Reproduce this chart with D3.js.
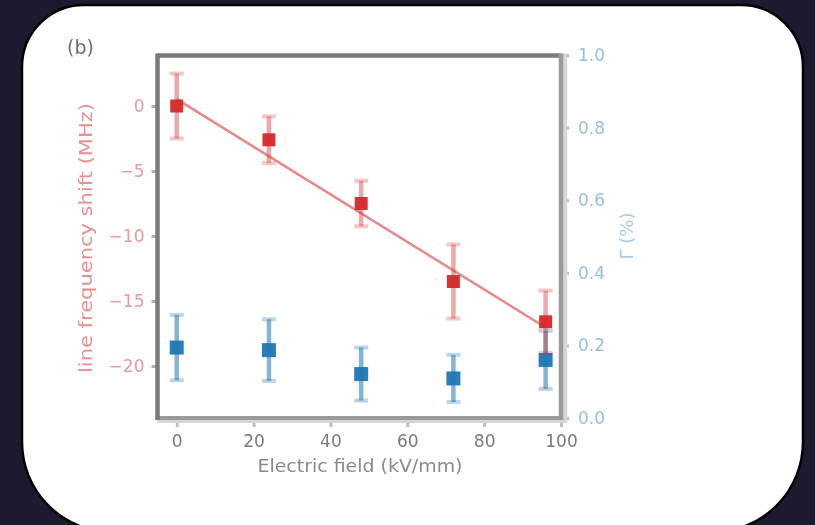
<!DOCTYPE html>
<html>
<head>
<meta charset="utf-8">
<script src="https://cdn.jsdelivr.net/npm/d3@7"></script>
<style>
  html, body { margin: 0; padding: 0; background: #1d1a30; }
  svg { display: block; }
  text { font-family: "DejaVu Sans", sans-serif; }
</style>
</head>
<body>
<svg id="fig" width="815" height="525"></svg>
<script>
// Electric-field dependence of the line shift (left axis) and Γ (right axis)
const fieldKV      = [0, 24, 48, 72, 96];
const lineShift    = [0.0, -2.6, -7.5, -13.5, -16.6];
const lineShiftErr = [2.5, 1.8, 1.75, 2.85, 2.4];
const gammaPct     = [0.194, 0.187, 0.121, 0.109, 0.160];
const gammaErr     = [0.09, 0.085, 0.073, 0.065, 0.08];
const fitSlope     = -0.183;   // MHz per kV/mm
const fitIntercept = 0.53;     // MHz

const xTicks      = [0, 20, 40, 60, 80, 100];
const leftTicks   = [0, -5, -10, -15, -20];
const rightTicks  = [0.0, 0.2, 0.4, 0.6, 0.8, 1.0];

const RED = "#d62728", BLUE = "#1f77b4";

const svg = d3.select("#fig");

// outer card
const L = 22, R = 803, T = 5, B = 532, rt = 62, rb = 90;
svg.append("rect").attr("width", 815).attr("height", 525).attr("fill", "#1d1a30");
svg.append("path")
  .attr("d", `M${L+rt},${T} H${R-rt} A${rt},${rt} 0 0 1 ${R},${T+rt} V${B-rb} A${rb},${rb} 0 0 1 ${R-rb},${B}
              H${L+rb} A${rb},${rb} 0 0 1 ${L},${B-rb} V${T+rt} A${rt},${rt} 0 0 1 ${L+rt},${T} Z`)
  .attr("fill", "#fff").attr("stroke", "#000").attr("stroke-width", 2.5);

const defs = svg.append("defs");
defs.append("filter").attr("id", "soft")
  .append("feGaussianBlur").attr("stdDeviation", 0.6);

const x  = d3.scaleLinear().domain([-5, 100]).range([157.5, 561]);
const yL = d3.scaleLinear().domain([-24, 4]).range([418, 54]);
const yR = d3.scaleLinear().domain([0, 1]).range([418, 55]);

const g = svg.append("g").attr("filter", "url(#soft)");

// axes (ticks + labels)
const fmtMinus = d => (d < 0 ? "\u2212" + Math.abs(d) : String(d));

const ax = g.append("g").attr("transform", `translate(0,${yL.range()[0] + 2})`)
  .call(d3.axisBottom(x).tickValues(xTicks).tickSize(7).tickPadding(8).tickFormat(d3.format("d")));
ax.select(".domain").remove();
ax.selectAll("line").attr("stroke", "#bdbdbd").attr("stroke-width", 3);
ax.selectAll("text").attr("fill", "#7a7a7a").attr("font-size", 17);

const al = g.append("g").attr("transform", `translate(${x.range()[0]},0)`)
  .call(d3.axisLeft(yL).tickValues(leftTicks).tickSize(6).tickPadding(7).tickFormat(fmtMinus));
al.select(".domain").remove();
al.selectAll("line").attr("stroke", "#c9a3a3").attr("stroke-width", 3);
al.selectAll("text").attr("fill", "#e99a9a").attr("font-size", 17);

const ar = g.append("g").attr("transform", `translate(${x.range()[1] + 2},0)`)
  .call(d3.axisRight(yR).tickValues(rightTicks).tickSize(6).tickPadding(9).tickFormat(d3.format(".1f")));
ar.select(".domain").remove();
ar.selectAll("line").attr("stroke", "#a9bdd2").attr("stroke-width", 3);
ar.selectAll("text").attr("fill", "#96bfde").attr("font-size", 17);

// spines
const [x0, x1] = x.range(), yb = yL.range()[0], yt = 55.5;
g.append("line").attr("x1", x0).attr("x2", x1).attr("y1", yt).attr("y2", yt)
  .attr("stroke", "#7a7a7a").attr("stroke-width", 4.5);
g.append("line").attr("x1", x0).attr("x2", x1 + 6).attr("y1", yb + 3).attr("y2", yb + 3)
  .attr("stroke", "#d6d6d6").attr("stroke-width", 4);
g.append("line").attr("x1", x0).attr("x2", x1).attr("y1", yb).attr("y2", yb)
  .attr("stroke", "#9a9a9a").attr("stroke-width", 4);
g.append("line").attr("x1", x1 + 4).attr("x2", x1 + 4).attr("y1", yt - 2).attr("y2", yb + 5)
  .attr("stroke", "#d6d6d6").attr("stroke-width", 4.5);
g.append("line").attr("x1", x1).attr("x2", x1).attr("y1", yt - 2).attr("y2", yb + 2)
  .attr("stroke", "#9a9a9a").attr("stroke-width", 4.5);
g.append("line").attr("x1", x0).attr("x2", x0).attr("y1", yt - 2).attr("y2", yb + 2)
  .attr("stroke", "#7a7a7a").attr("stroke-width", 4.5);

// Γ series (right axis)
const blue = g.append("g");
fieldKV.forEach((f, i) => {
  const cx = x(f), top = yR(gammaPct[i] + gammaErr[i]), bot = yR(gammaPct[i] - gammaErr[i]);
  blue.append("line").attr("x1", cx).attr("x2", cx).attr("y1", top).attr("y2", bot)
    .attr("stroke", BLUE).attr("stroke-opacity", 0.55).attr("stroke-width", 4.5);
  [top, bot].forEach(yy => blue.append("line")
    .attr("x1", cx - 7).attr("x2", cx + 7).attr("y1", yy).attr("y2", yy)
    .attr("stroke", BLUE).attr("stroke-opacity", 0.3).attr("stroke-width", 4));
  blue.append("rect").attr("x", cx - 7).attr("y", yR(gammaPct[i]) - 7)
    .attr("width", 14).attr("height", 14).attr("fill", BLUE).attr("fill-opacity", 0.95);
});

// linear fit of the line shift
g.append("line")
  .attr("x1", x(d3.min(fieldKV))).attr("y1", yL(fitIntercept + fitSlope * d3.min(fieldKV)))
  .attr("x2", x(d3.max(fieldKV))).attr("y2", yL(fitIntercept + fitSlope * d3.max(fieldKV)))
  .attr("stroke", RED).attr("stroke-opacity", 0.55).attr("stroke-width", 2.5);

// line shift series (left axis)
const red = g.append("g");
fieldKV.forEach((f, i) => {
  const cx = x(f), top = yL(lineShift[i] + lineShiftErr[i]), bot = yL(lineShift[i] - lineShiftErr[i]);
  red.append("line").attr("x1", cx).attr("x2", cx).attr("y1", top).attr("y2", bot)
    .attr("stroke", RED).attr("stroke-opacity", 0.4).attr("stroke-width", 4.5);
  [top, bot].forEach(yy => red.append("line")
    .attr("x1", cx - 7).attr("x2", cx + 7).attr("y1", yy).attr("y2", yy)
    .attr("stroke", RED).attr("stroke-opacity", 0.25).attr("stroke-width", 4));
  red.append("rect").attr("x", cx - 6.5).attr("y", yL(lineShift[i]) - 6.5)
    .attr("width", 13).attr("height", 13).attr("fill", RED).attr("fill-opacity", 0.95);
});

// labels
g.append("text").attr("x", 67).attr("y", 54).attr("font-size", 19).attr("fill", "#6e6e6e").text("(b)");

g.append("text").attr("x", 360).attr("y", 472).attr("text-anchor", "middle")
  .attr("font-size", 17).attr("fill", "#8a8a8a")
  .attr("textLength", 205).attr("lengthAdjust", "spacingAndGlyphs")
  .text("Electric field (kV/mm)");

g.append("text").attr("transform", "translate(92,238) rotate(-90)").attr("text-anchor", "middle")
  .attr("font-size", 18).attr("fill", "#e88f8f")
  .attr("textLength", 270).attr("lengthAdjust", "spacingAndGlyphs")
  .text("line frequency shift (MHz)");

g.append("text").attr("transform", "translate(633,236) rotate(-90)").attr("text-anchor", "middle")
  .attr("font-size", 18).attr("fill", "#a9cbe4")
  .text("Γ (%)");
</script>
</body>
</html>
